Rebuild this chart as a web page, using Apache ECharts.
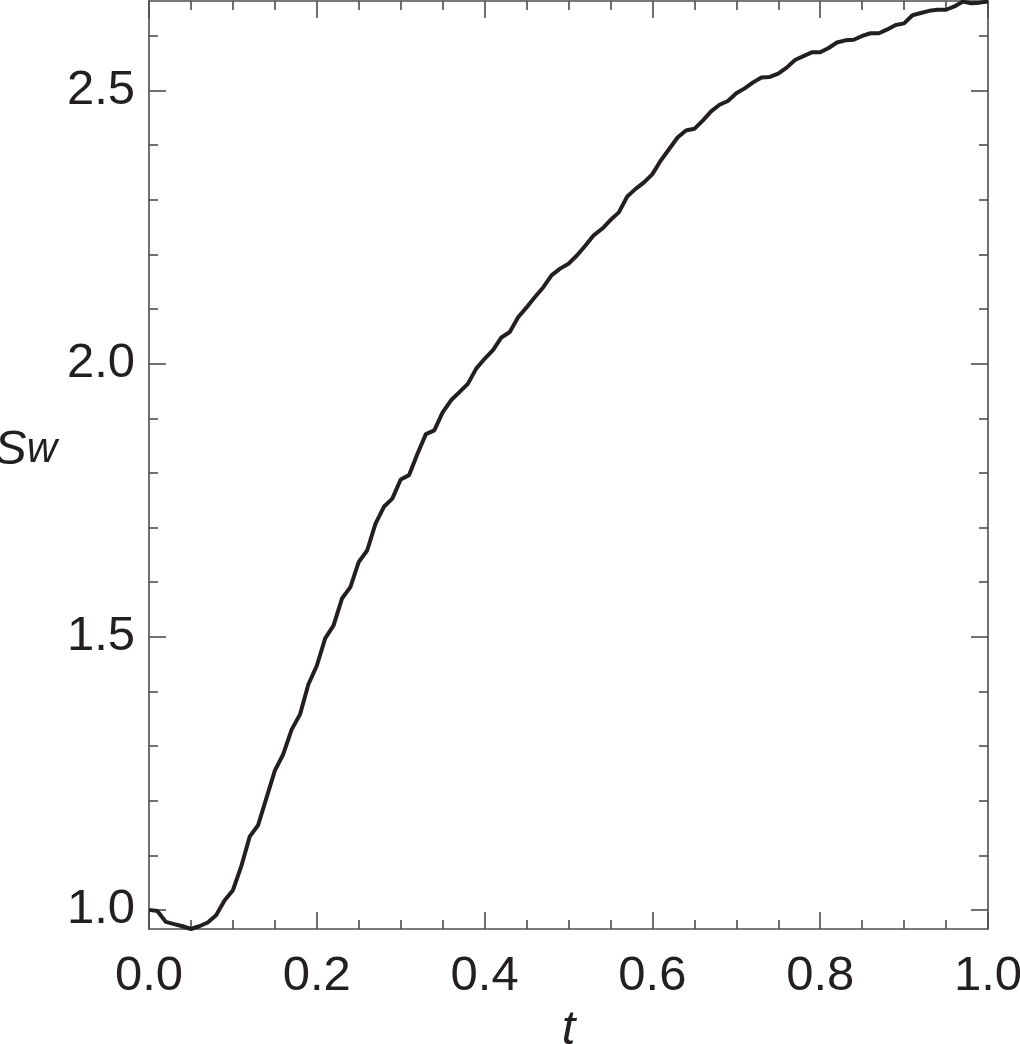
<!DOCTYPE html>
<html>
<head>
<meta charset="utf-8">
<script src="https://cdn.jsdelivr.net/npm/echarts@6/dist/echarts.min.js"></script>
<style>
html,body{margin:0;padding:0;background:#fff;}
#chart{width:1020px;height:1044px;}
</style>
</head>
<body>
<div id="chart"></div>
<script>
const tValues = [
0.00,0.01,0.02,0.03,0.04,0.05,0.06,0.07,0.08,0.09,
0.10,0.11,0.12,0.13,0.14,0.15,0.16,0.17,0.18,0.19,
0.20,0.21,0.22,0.23,0.24,0.25,0.26,0.27,0.28,0.29,
0.30,0.31,0.32,0.33,0.34,0.35,0.36,0.37,0.38,0.39,
0.40,0.41,0.42,0.43,0.44,0.45,0.46,0.47,0.48,0.49,
0.50,0.51,0.52,0.53,0.54,0.55,0.56,0.57,0.58,0.59,
0.60,0.61,0.62,0.63,0.64,0.65,0.66,0.67,0.68,0.69,
0.70,0.71,0.72,0.73,0.74,0.75,0.76,0.77,0.78,0.79,
0.80,0.81,0.82,0.83,0.84,0.85,0.86,0.87,0.88,0.89,
0.90,0.91,0.92,0.93,0.94,0.95,0.96,0.97,0.98,0.99,
1.00];
const swValues = [
1.000,0.998,0.978,0.974,0.970,0.965,0.970,0.977,0.990,1.017,
1.036,1.080,1.134,1.155,1.205,1.255,1.285,1.330,1.358,1.413,
1.447,1.497,1.521,1.570,1.591,1.637,1.658,1.707,1.738,1.753,
1.788,1.796,1.835,1.871,1.878,1.911,1.933,1.948,1.963,1.991,
2.009,2.025,2.048,2.058,2.085,2.103,2.122,2.140,2.162,2.174,
2.183,2.198,2.216,2.235,2.247,2.263,2.277,2.306,2.320,2.332,
2.347,2.372,2.393,2.414,2.427,2.430,2.445,2.462,2.474,2.481,
2.495,2.504,2.515,2.524,2.525,2.531,2.542,2.556,2.563,2.570,
2.570,2.578,2.588,2.592,2.593,2.600,2.605,2.605,2.612,2.620,
2.623,2.638,2.642,2.646,2.648,2.648,2.654,2.663,2.660,2.661,
2.663];
const yMajorTicks = [1.0, 1.5, 2.0, 2.5];
const yMinorTicks = [1.1,1.2,1.3,1.4,1.6,1.7,1.8,1.9,2.1,2.2,2.3,2.4,2.6];
const xRange = [0, 1];
const yRange = [0.965, 2.664];

const TXT = '#231f20';
const AX = '#4d4d4f';
const FONT = '"Liberation Sans", Arial, Helvetica, sans-serif';

const chart = echarts.init(document.getElementById('chart'), null, {renderer: 'canvas'});

function xAxisDef(pos, showLabel) {
  return {
    type: 'value', position: pos, min: xRange[0], max: xRange[1], interval: 0.2,
    axisLine: {show: true, lineStyle: {color: AX, width: 1.6}},
    axisTick: {show: true, inside: true, length: 17, lineStyle: {color: AX, width: 1.6}},
    minorTick: {show: true, splitNumber: 4, length: 9, lineStyle: {color: AX, width: 1.6}},
    splitLine: {show: false}, minorSplitLine: {show: false},
    axisLabel: {show: showLabel, margin: 23, fontSize: 49, color: TXT, fontFamily: FONT,
      formatter: v => v.toFixed(1)},
    name: showLabel ? 't' : '',
    nameLocation: 'middle', nameGap: 75,
    nameTextStyle: {fontSize: 49, fontStyle: 'italic', color: TXT, fontFamily: FONT}
  };
}
function yAxisDef(pos, ticks, len, showLine, showLabel) {
  return {
    type: 'value', position: pos, min: yRange[0], max: yRange[1], offset: 0,
    axisLine: {show: showLine, lineStyle: {color: AX, width: 1.6}},
    axisTick: {show: true, inside: true, length: len, customValues: ticks, lineStyle: {color: AX, width: 1.6}},
    splitLine: {show: false},
    axisLabel: {show: showLabel, customValues: ticks, margin: 14, fontSize: 49, color: TXT, fontFamily: FONT,
      formatter: v => v.toFixed(1)},
    name: showLabel ? '{s|S}{w|w}' : '',
    nameLocation: 'middle', nameGap: 92, nameRotate: 0,
    nameTextStyle: {color: TXT, fontFamily: FONT, padding: [0, 0, 30, 0],
      rich: {s: {fontSize: 49, fontStyle: 'italic', color: TXT, fontFamily: FONT},
             w: {fontSize: 42, fontStyle: 'italic', color: TXT, fontFamily: FONT}}}
  };
}

chart.setOption({
  animation: false,
  backgroundColor: '#fff',
  grid: {left: 149, right: 32, top: 1, bottom: 115, containLabel: false, outerBoundsMode: 'none'},
  xAxis: [xAxisDef('bottom', true), xAxisDef('top', false)],
  yAxis: [
    yAxisDef('left', yMajorTicks, 17, true, true),
    yAxisDef('left', yMinorTicks, 9, false, false),
    yAxisDef('right', yMajorTicks, 17, true, false),
    yAxisDef('right', yMinorTicks, 9, false, false)
  ],
  series: [{
    type: 'line', xAxisIndex: 0, yAxisIndex: 0,
    data: tValues.map((t, i) => [t, swValues[i]]),
    showSymbol: false, symbol: 'none', clip: false,
    lineStyle: {color: TXT, width: 4}
  }]
});
</script>
</body>
</html>
